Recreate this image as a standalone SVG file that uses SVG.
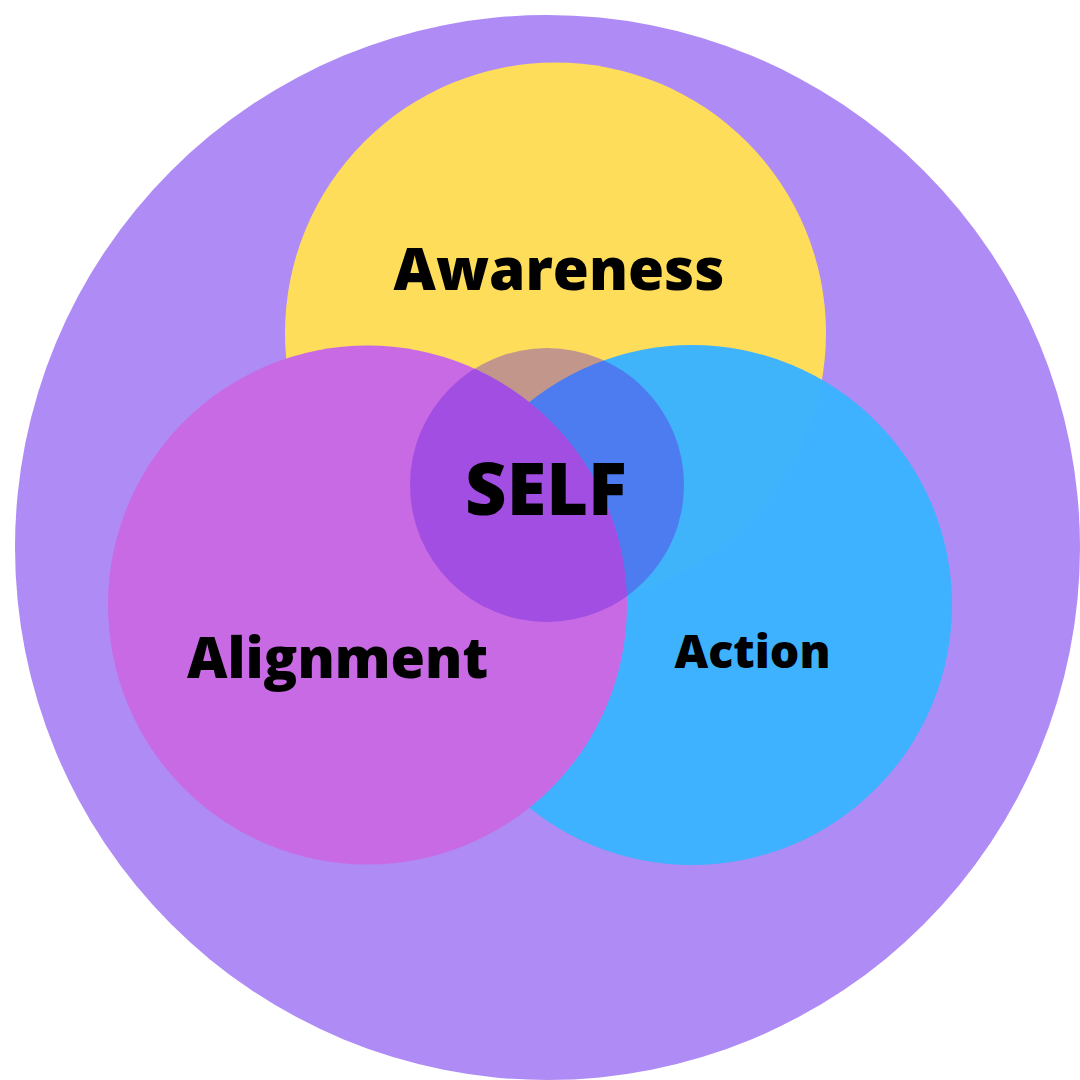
<svg xmlns="http://www.w3.org/2000/svg" width="1080" height="1080" viewBox="0 0 1080 1080">
<style>
.lbl{font-family:"Open Sans","Liberation Sans",sans-serif;font-weight:800;fill:#000;text-anchor:middle}
</style>
<rect width="1080" height="1080" fill="#ffffff"/>
<g id="outer"><circle cx="547.5" cy="547.5" r="532.5" fill="#AF8BF5"/></g>
<g id="awareness">
<circle cx="555.5" cy="333" r="270.5" fill="#FEDD5A"/>
</g>
<g id="action">
<circle cx="692" cy="605" r="260" fill="#3BB3FE" fill-opacity="0.98"/>
</g>
<g id="alignment">
<circle cx="367.5" cy="605" r="259.5" fill="#C86AE4"/>
</g>
<g id="self">
<circle cx="547" cy="485" r="137" fill="#6522E0" fill-opacity="0.38"/>
</g>
<g id="labels">
<text class="lbl" x="559" y="290" font-size="58.4">Awareness</text>
<text class="lbl" x="337.5" y="678" font-size="55.8">Alignment</text>
<text class="lbl" x="752.5" y="668" font-size="46.5">Action</text>
<text class="lbl" x="546" y="515" font-size="72">SELF</text>
</g>
<g id="connectors"></g>
</svg>
